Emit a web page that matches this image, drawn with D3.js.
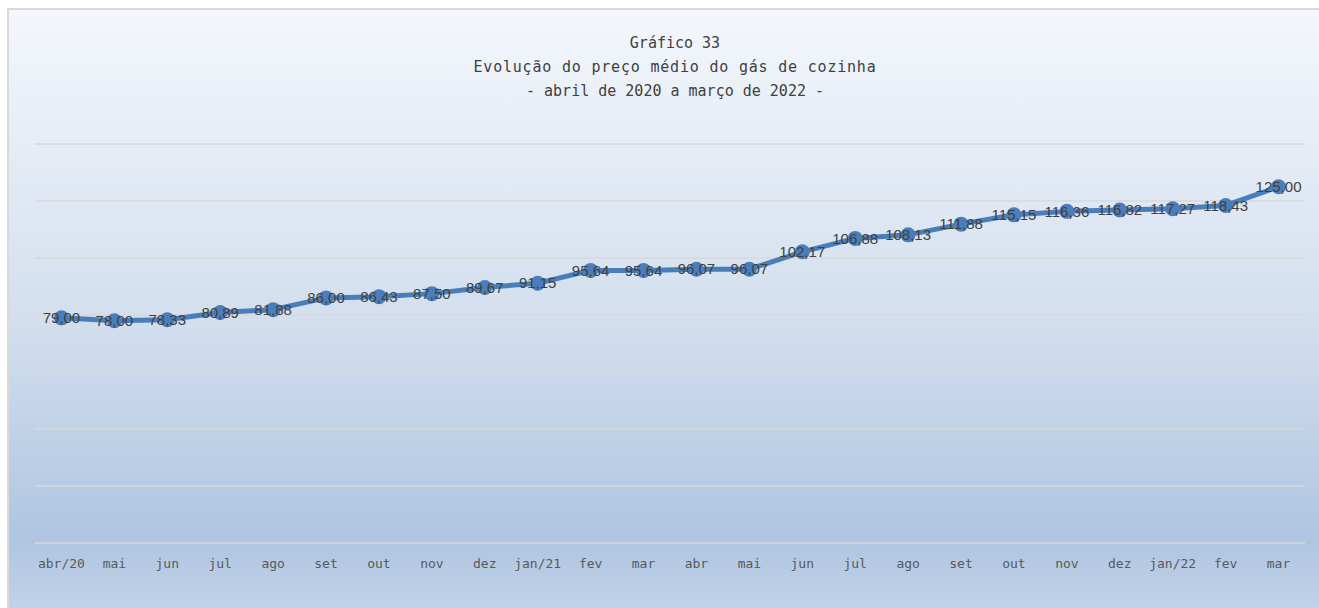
<!DOCTYPE html>
<html>
<head>
<meta charset="utf-8">
<script src="https://cdn.jsdelivr.net/npm/d3@7"></script>
<style>
  html, body { margin: 0; padding: 0; background: #fff; }
  svg { display: block; }
</style>
</head>
<body>
<script>
const months = ["abr/20","mai","jun","jul","ago","set","out","nov","dez","jan/21","fev","mar",
                "abr","mai","jun","jul","ago","set","out","nov","dez","jan/22","fev","mar"];
const prices = [79.00,78.00,78.33,80.89,81.88,86.00,86.43,87.50,89.67,91.15,95.64,95.64,
                96.07,96.07,102.17,106.88,108.13,111.88,115.15,116.36,116.82,117.27,118.43,125.00];
const yTicks = [0,20,40,60,80,100,120,140];
const titleLines = ["Gráfico 33", "Evolução do preço médio do gás de cozinha", "- abril de 2020 a março de 2022 -"];

const W = 1319, H = 608;
const margin = {left: 35, right: 14, top: 144, bottom: 65};

const svg = d3.select("body").append("svg").attr("width", W).attr("height", H);

// background gradient
const grad = svg.append("defs").append("linearGradient")
  .attr("id", "bg").attr("x1", 0).attr("y1", 0).attr("x2", 0).attr("y2", 1);
grad.append("stop").attr("offset", "0%").attr("stop-color", "#f4f7fc");
grad.append("stop").attr("offset", "50%").attr("stop-color", "#d3dfee");
grad.append("stop").attr("offset", "86%").attr("stop-color", "#afc5e1");
grad.append("stop").attr("offset", "100%").attr("stop-color", "#c6d6eb");

svg.append("rect")
  .attr("x", 8).attr("y", 9).attr("width", W + 10).attr("height", H + 10)
  .attr("fill", "url(#bg)").attr("stroke", "#d9d9d9").attr("stroke-width", 2);

const x = d3.scaleBand().domain(d3.range(months.length))
  .range([margin.left, W - margin.right]);
const y = d3.scaleLinear().domain([0, 140]).range([H - margin.bottom, margin.top]);

// gridlines
svg.append("g").selectAll("line")
  .data(yTicks)
  .enter().append("line")
  .attr("x1", margin.left).attr("x2", W - margin.right)
  .attr("y1", d => y(d)).attr("y2", d => y(d))
  .attr("stroke", "#d9d9d9").attr("stroke-width", 1.5);

// x labels
svg.append("g").selectAll("text")
  .data(months)
  .enter().append("text")
  .attr("x", (d, i) => x(i) + x.bandwidth() / 2)
  .attr("y", H - margin.bottom + 25)
  .attr("text-anchor", "middle")
  .attr("font-family", "DejaVu Sans Mono, monospace")
  .attr("font-size", 13)
  .attr("fill", "#595959")
  .text(d => d);

// line
const cx = i => x(i) + x.bandwidth() / 2;
const line = d3.line().x((d, i) => cx(i)).y(d => y(d));
svg.append("path")
  .datum(prices)
  .attr("d", line)
  .attr("fill", "none")
  .attr("stroke", "#4a7ebb")
  .attr("stroke-width", 5)
  .attr("stroke-linejoin", "round");

svg.append("g").selectAll("circle")
  .data(prices)
  .enter().append("circle")
  .attr("cx", (d, i) => cx(i))
  .attr("cy", d => y(d))
  .attr("r", 7.5)
  .attr("fill", "#4a7ebb");

// data labels
const fmt = d => d.toFixed(2).replace(".", ",");
svg.append("g").selectAll("text")
  .data(prices)
  .enter().append("text")
  .attr("x", (d, i) => cx(i))
  .attr("y", d => y(d))
  .attr("dy", "0.35em")
  .attr("text-anchor", "middle")
  .attr("font-family", "Liberation Sans, Arial, sans-serif")
  .attr("font-size", 15)
  .attr("fill", "#404040")
  .text(fmt);

// title
svg.append("g").selectAll("text")
  .data(titleLines)
  .enter().append("text")
  .attr("x", 675)
  .attr("y", (d, i) => 48 + i * 24)
  .attr("text-anchor", "middle")
  .attr("font-family", "DejaVu Sans Mono, monospace")
  .attr("font-size", 15)
  .attr("letter-spacing", (d, i) => i === 1 ? 0.8 : 0)
  .attr("fill", "#404040")
  .text(d => d);
</script>
</body>
</html>
